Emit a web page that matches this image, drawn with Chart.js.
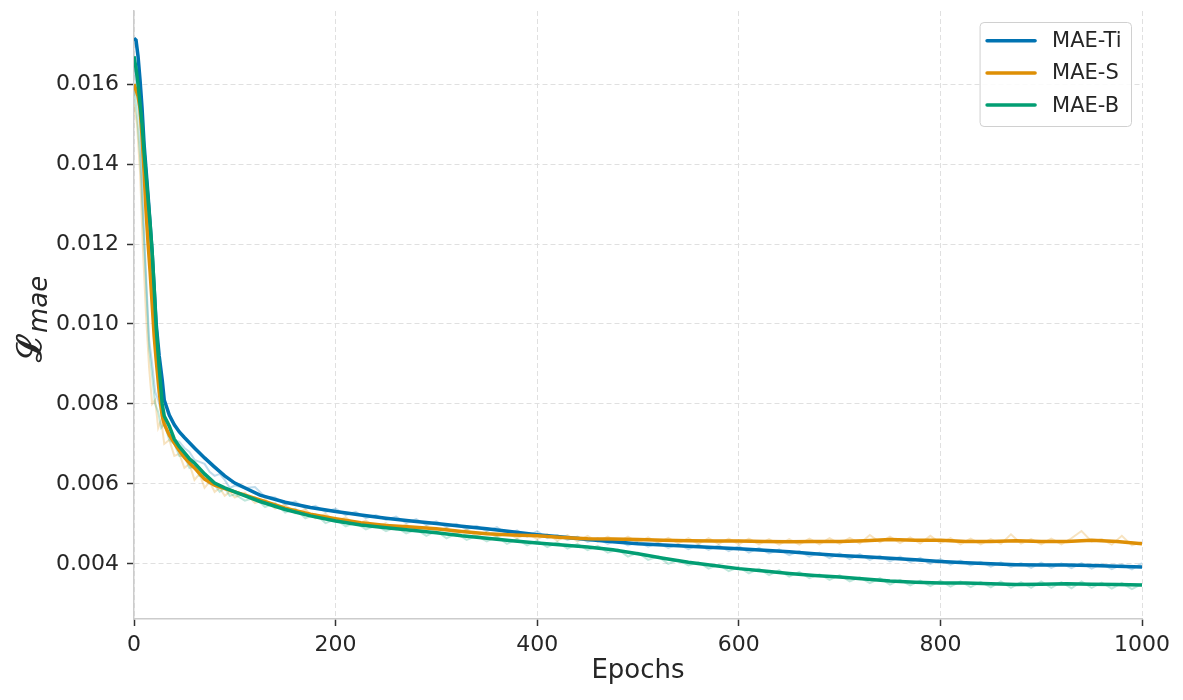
<!DOCTYPE html>
<html>
<head>
<meta charset="utf-8">
<script src="https://cdn.jsdelivr.net/npm/chart.js@4.4.1/dist/chart.umd.min.js"></script>
<style>
    html, body { margin: 0; padding: 0; background: #ffffff; }
    #wrap { width: 1183px; height: 700px; position: relative; }
</style>
</head>
<body>
<div id="wrap"><canvas id="lossChart"></canvas></div>
<script>
// smoothed curves
const smoothEpochs = [0, 2, 4, 6, 8, 10, 12, 14, 16, 18, 20, 22, 25, 28, 30, 35, 40, 45, 50, 55, 60, 70, 80, 90,
    100, 125, 150, 175, 200, 225, 250, 275, 300, 325, 350, 375, 400, 425, 450, 475, 500, 525, 550, 575, 600,
    625, 650, 675, 700, 725, 750, 775, 800, 825, 850, 875, 900, 925, 950, 975, 1000];

const maeTiSmooth = [0.01715, 0.0171, 0.0167, 0.0161, 0.0154, 0.0145, 0.01385, 0.0132, 0.0125, 0.0118, 0.0109, 0.0100,
    0.0092, 0.0086, 0.0081, 0.00772, 0.00748, 0.0073, 0.00716, 0.00703, 0.0069, 0.00665, 0.00642, 0.0062,
    0.00602, 0.00572, 0.00554, 0.00541, 0.00531, 0.00522, 0.00514, 0.00507, 0.00501, 0.00494, 0.00488, 0.0048,
    0.00473, 0.00467, 0.00461, 0.00455, 0.0045, 0.00447, 0.00444, 0.00441, 0.00438, 0.00434, 0.0043, 0.00425,
    0.00421, 0.00418, 0.00414, 0.0041, 0.00406, 0.00403, 0.004, 0.00398, 0.00397, 0.00397, 0.00396, 0.00394, 0.00392];

const maeSSmooth = [0.0160, 0.01585, 0.0157, 0.0154, 0.0147, 0.0138, 0.0128, 0.0120, 0.0113, 0.0105, 0.0097, 0.0091,
    0.0083, 0.0077, 0.0075, 0.00722, 0.00702, 0.00683, 0.00666, 0.00652, 0.0064, 0.00612, 0.00597, 0.00588,
    0.0058, 0.0056, 0.00539, 0.00524, 0.00513, 0.00503, 0.00496, 0.00492, 0.00488, 0.00481, 0.00475, 0.00472,
    0.0047, 0.00466, 0.00463, 0.00462, 0.00461, 0.00459, 0.00458, 0.00457, 0.00457, 0.00456, 0.00455, 0.00456,
    0.00456, 0.00458, 0.00461, 0.00459, 0.00459, 0.00456, 0.00456, 0.00458, 0.00456, 0.00456, 0.00459, 0.00456, 0.0045];

const maeBSmooth = [0.0167, 0.0164, 0.0160, 0.0155, 0.0150, 0.0143, 0.0137, 0.0131, 0.0125, 0.0118, 0.0109, 0.0099,
    0.0089, 0.0080, 0.0077, 0.00745, 0.00712, 0.00693, 0.00678, 0.00663, 0.00652, 0.00625, 0.00602, 0.0059,
    0.0058, 0.00556, 0.00536, 0.0052, 0.00507, 0.00497, 0.0049, 0.00484, 0.00478, 0.0047, 0.00464, 0.00458,
    0.00452, 0.00447, 0.00442, 0.00435, 0.00425, 0.00414, 0.00404, 0.00396, 0.00388, 0.00382, 0.00376, 0.00371,
    0.00367, 0.00362, 0.00357, 0.00354, 0.00352, 0.00352, 0.0035, 0.00348, 0.00349, 0.0035, 0.00349, 0.00348, 0.00347];

// raw (unsmoothed) curves, drawn faint behind
const rawEpochs = [0, 3, 6, 9, 12, 15, 18, 21, 24, 27, 30, 35, 40, 45, 50, 55, 60, 65, 70, 75, 80, 85, 90, 95,
    100, 110, 120, 130, 140, 150, 160, 170, 180, 190, 200, 210, 220, 230, 240, 250, 260, 270, 280, 290, 300,
    310, 320, 330, 340, 350, 360, 370, 380, 390, 400, 410, 420, 430, 440, 450, 460, 470, 480, 490, 500,
    510, 520, 530, 540, 550, 560, 570, 580, 590, 600, 610, 620, 630, 640, 650, 660, 670, 680, 690, 700,
    710, 720, 730, 740, 750, 760, 770, 780, 790, 800, 810, 820, 830, 840, 850, 860, 870, 880, 890, 900,
    910, 920, 930, 940, 950, 960, 970, 980, 990, 1000];

const maeTiRaw = [0.0166, 0.0158, 0.0150, 0.0128, 0.0112, 0.0096, 0.0090, 0.0083, 0.0081, 0.0078, 0.0076,
    0.0074, 0.0071, 0.00705, 0.0069, 0.0068, 0.0066, 0.00655, 0.0065, 0.0063, 0.0062, 0.00625, 0.0061, 0.0059,
    0.00596, 0.0059, 0.00592, 0.00568, 0.00566, 0.00548, 0.00556, 0.00538, 0.00545, 0.0053, 0.00538,
    0.00522, 0.0053, 0.00514, 0.00522, 0.0051, 0.00518, 0.00502, 0.00512, 0.00497, 0.00506,
    0.00492, 0.005, 0.00486, 0.00495, 0.00482, 0.00492, 0.00474, 0.00484, 0.00468, 0.00482,
    0.00464, 0.00472, 0.0046, 0.00468, 0.00455, 0.00464, 0.0045, 0.0046, 0.00446, 0.00455,
    0.00443, 0.00452, 0.0044, 0.00449, 0.00437, 0.00448, 0.00435, 0.00446, 0.00432, 0.00444,
    0.00428, 0.0044, 0.00426, 0.00436, 0.00422, 0.00432, 0.00418, 0.00428, 0.00414, 0.00426,
    0.00412, 0.00424, 0.0041, 0.0042, 0.00406, 0.00418, 0.00404, 0.00415, 0.004, 0.00412,
    0.00398, 0.00408, 0.00396, 0.00405, 0.00393, 0.00404, 0.00392, 0.00402, 0.0039, 0.00403,
    0.0039, 0.00401, 0.00389, 0.00402, 0.00388, 0.004, 0.00387, 0.00398, 0.00386, 0.00402];

const maeSRaw = [0.0155, 0.0150, 0.0138, 0.0118, 0.0102, 0.0089, 0.0080, 0.0081, 0.0074, 0.0076, 0.0070,
    0.0071, 0.0067, 0.00675, 0.0064, 0.0065, 0.0061, 0.00625, 0.0059, 0.00605, 0.0058, 0.0059, 0.0057, 0.0058,
    0.00566, 0.00578, 0.00552, 0.00562, 0.00538, 0.00548, 0.00526, 0.00536, 0.00514, 0.00525, 0.00506,
    0.00516, 0.00498, 0.00508, 0.00492, 0.00502, 0.00486, 0.00498, 0.00483, 0.00494, 0.0048,
    0.0049, 0.00474, 0.00486, 0.00468, 0.0048, 0.00466, 0.00478, 0.00464, 0.00476, 0.00462,
    0.00474, 0.00458, 0.00472, 0.00456, 0.0047, 0.00455, 0.00468, 0.00454, 0.00468, 0.00453,
    0.00466, 0.00452, 0.00465, 0.00451, 0.00464, 0.0045, 0.00464, 0.0045, 0.00463, 0.00449,
    0.00463, 0.00449, 0.00462, 0.00448, 0.00462, 0.00448, 0.00463, 0.00449, 0.00464, 0.0045,
    0.00465, 0.00451, 0.00472, 0.00454, 0.00468, 0.00452, 0.00466, 0.00451, 0.0047, 0.00452,
    0.00464, 0.00449, 0.00463, 0.00449, 0.00462, 0.0045, 0.00474, 0.00451, 0.00462, 0.00449,
    0.00463, 0.00449, 0.00464, 0.00482, 0.00456, 0.00462, 0.00448, 0.0047, 0.00446, 0.00455];

const maeBRaw = [0.0160, 0.0152, 0.0142, 0.0126, 0.0110, 0.0094, 0.0087, 0.0080, 0.0078, 0.0074, 0.0075,
    0.0071, 0.0070, 0.0067, 0.0067, 0.0064, 0.00645, 0.0062, 0.0062, 0.0060, 0.00598, 0.0058, 0.0059, 0.0057,
    0.00574, 0.00558, 0.00566, 0.00542, 0.00552, 0.00528, 0.00538, 0.00514, 0.00524, 0.00502, 0.00512,
    0.00494, 0.00503, 0.00486, 0.00496, 0.00482, 0.00492, 0.00476, 0.00486, 0.0047, 0.00482,
    0.00464, 0.00476, 0.0046, 0.0047, 0.00456, 0.00468, 0.0045, 0.00462, 0.00446, 0.00458,
    0.00442, 0.00454, 0.00438, 0.0045, 0.00434, 0.00445, 0.00428, 0.00436, 0.00418, 0.00428,
    0.0041, 0.00418, 0.004, 0.0041, 0.00396, 0.00404, 0.00388, 0.00398, 0.00382, 0.00392,
    0.00376, 0.00388, 0.00372, 0.00384, 0.00368, 0.0038, 0.00364, 0.00374, 0.0036, 0.00372,
    0.00356, 0.00366, 0.00352, 0.00364, 0.00348, 0.0036, 0.00346, 0.00358, 0.00344, 0.00358,
    0.00343, 0.00356, 0.00342, 0.00355, 0.00341, 0.00356, 0.0034, 0.00354, 0.0034, 0.00356,
    0.0034, 0.00354, 0.00339, 0.00356, 0.0034, 0.00353, 0.00338, 0.00352, 0.00337, 0.0035];

const seriesNames = ["MAE-Ti", "MAE-S", "MAE-B"];
const seriesColors = ["#0173b2", "#de8f05", "#029e73"];
const yTickValues = [0.004, 0.006, 0.008, 0.010, 0.012, 0.014, 0.016];

const toPoints = (xs, ys) => xs.map((x, i) => ({ x, y: ys[i] }));

const fadeColor = (hex, alpha) => {
    const r = parseInt(hex.slice(1, 3), 16);
    const g = parseInt(hex.slice(3, 5), 16);
    const b = parseInt(hex.slice(5, 7), 16);
    return `rgba(${r}, ${g}, ${b}, ${alpha})`;
};

const smoothSeries = [maeTiSmooth, maeSSmooth, maeBSmooth];
const rawSeries = [maeTiRaw, maeSRaw, maeBRaw];

const datasets = [];
rawSeries.forEach((values, i) => {
    datasets.push({
        label: seriesNames[i] + " raw",
        data: toPoints(rawEpochs, values),
        borderColor: fadeColor(seriesColors[i], 0.25),
        borderWidth: 2,
        pointRadius: 0,
        order: 5 - i,
        isRaw: true,
    });
});
smoothSeries.forEach((values, i) => {
    datasets.push({
        label: seriesNames[i],
        data: toPoints(smoothEpochs, values),
        borderColor: seriesColors[i],
        borderWidth: 3.5,
        pointRadius: 0,
        order: 2 - i,
        isRaw: false,
    });
});

const textColor = "#262626";
const fontFamily = "'DejaVu Sans', sans-serif";

// y axis title: calligraphic L with subscript "mae"
const yTitlePlugin = {
    id: "yTitle",
    afterDraw(chart) {
        const { ctx } = chart;
        ctx.save();
        ctx.translate(41, 362);
        ctx.rotate(-Math.PI / 2);
        ctx.fillStyle = textColor;
        ctx.textBaseline = "alphabetic";
        ctx.textAlign = "left";
        ctx.font = "bold 34px 'DejaVu Serif', serif";
        ctx.fillText("ℒ", 0, 0);
        const lw = ctx.measureText("ℒ").width;
        ctx.font = "italic 26px " + fontFamily;
        ctx.fillText("mae", lw + 1, 6);
        ctx.restore();
    },
};

// framed legend in the upper right
const legendPlugin = {
    id: "boxLegend",
    afterDatasetsDraw(chart) {
        const { ctx, chartArea } = chart;
        const items = chart.data.datasets.filter((d) => !d.isRaw);
        ctx.save();
        ctx.font = "21px " + fontFamily;
        const textW = Math.max(...items.map((d) => ctx.measureText(d.label).width));
        const lineLen = 48;
        const boxW = 7 + lineLen + 17 + textW + 10;
        const boxH = 104;
        const right = chartArea.right - 10.5;
        const left = right - boxW;
        const top = chartArea.top + 11.5;
        ctx.beginPath();
        ctx.roundRect(left, top, boxW, boxH, 4);
        ctx.fillStyle = "rgba(255, 255, 255, 0.85)";
        ctx.fill();
        ctx.strokeStyle = "#d0d0d0";
        ctx.lineWidth = 1;
        ctx.stroke();
        items.forEach((d, i) => {
            const y = top + 18.2 + i * 32.2;
            ctx.beginPath();
            ctx.moveTo(left + 7, y);
            ctx.lineTo(left + 7 + lineLen, y);
            ctx.strokeStyle = d.borderColor;
            ctx.lineWidth = 3.5;
            ctx.lineCap = "round";
            ctx.stroke();
            ctx.fillStyle = textColor;
            ctx.textBaseline = "middle";
            ctx.fillText(d.label, left + 7 + lineLen + 17, y + 1);
        });
        ctx.restore();
    },
};

new Chart(document.getElementById("lossChart"), {
    type: "line",
    data: { datasets },
    options: {
        responsive: true,
        maintainAspectRatio: false,
        animation: false,
        layout: { padding: { top: 11, right: 41, left: 0, bottom: 0 } },
        plugins: {
            legend: { display: false },
            tooltip: { enabled: false },
        },
        elements: { line: { tension: 0 } },
        scales: {
            x: {
                type: "linear",
                min: 0,
                max: 1000,
                ticks: {
                    stepSize: 200,
                    color: textColor,
                    padding: 6,
                    font: { family: fontFamily, size: 22 },
                    maxRotation: 0,
                    callback: (value) => String(value),
                },
                grid: {
                    color: "#e0e0e0",
                    lineWidth: 1,
                    tickLength: 7,
                    tickColor: "#333333",
                    tickWidth: 1.5,
                },
                border: { color: "#cccccc", width: 1.5, dash: [5, 3] },
                title: {
                    display: true,
                    text: "Epochs",
                    color: textColor,
                    font: { family: fontFamily, size: 26 },
                    padding: { top: 0, bottom: 13 },
                },
                afterFit: (scale) => {
                    scale.height = 81;
                    scale.paddingLeft = 0;
                    scale.paddingRight = 0;
                },
            },
            y: {
                type: "linear",
                min: 0.00262,
                max: 0.01783,
                afterBuildTicks: (scale) => {
                    scale.ticks = yTickValues.map((value) => ({ value }));
                },
                ticks: {
                    color: textColor,
                    padding: 8,
                    font: { family: fontFamily, size: 22 },
                    callback: (value) => Number(value).toFixed(3),
                },
                grid: {
                    color: "#e0e0e0",
                    lineWidth: 1,
                    tickLength: 7,
                    tickColor: "#333333",
                    tickWidth: 1.5,
                },
                border: { color: "#cccccc", width: 1.5, dash: [5, 3] },
                afterFit: (scale) => {
                    scale.width = 134;
                    scale.paddingTop = 0;
                    scale.paddingBottom = 0;
                },
            },
        },
    },
    plugins: [yTitlePlugin, legendPlugin],
});
</script>
</body>
</html>
